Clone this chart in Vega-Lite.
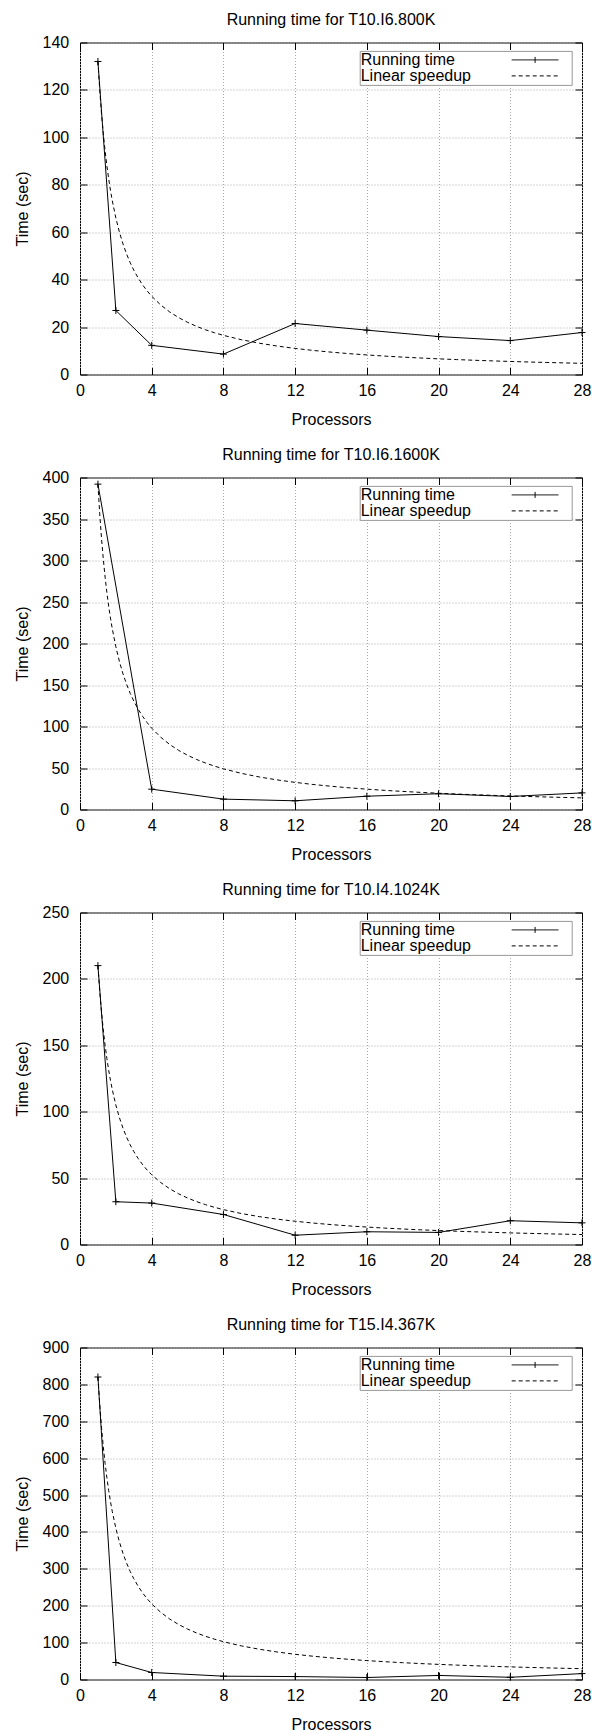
{
  "$schema": "https://vega.github.io/schema/vega-lite/v6.json",
  "background": "white",
  "padding": {"left": 13, "top": 10.5, "right": 2, "bottom": 5},
  "bounds": "flush",
  "spacing": 103,
  "resolve": {"scale": {"shape": "independent", "strokeDash": "independent"}, "legend": {"shape": "independent", "strokeDash": "independent"}},
  "datasets": {
    "run1": [{"p":1,"t":132},{"p":2,"t":27},{"p":4,"t":12.3},{"p":8,"t":8.6},{"p":12,"t":21.5},{"p":16,"t":18.7},{"p":20,"t":16},{"p":24,"t":14.3},{"p":28,"t":17.7}],
    "run2": [{"p":1,"t":392},{"p":4,"t":24.5},{"p":8,"t":12.5},{"p":12,"t":10.5},{"p":16,"t":16},{"p":20,"t":19},{"p":24,"t":15.7},{"p":28,"t":20}],
    "run3": [{"p":1,"t":210},{"p":2,"t":32.2},{"p":4,"t":31.2},{"p":8,"t":22.6},{"p":12,"t":7},{"p":16,"t":9.6},{"p":20,"t":9.1},{"p":24,"t":17.9},{"p":28,"t":16.3}],
    "run4": [{"p":1,"t":820},{"p":2,"t":46},{"p":4,"t":19},{"p":8,"t":9},{"p":12,"t":8},{"p":16,"t":5.4},{"p":20,"t":11},{"p":24,"t":6},{"p":28,"t":16}],
    "lin1": [{"p":1,"t":132},{"p":1.1,"t":120},{"p":1.2,"t":110},{"p":1.3,"t":101.54},{"p":1.4,"t":94.29},{"p":1.5,"t":88},{"p":1.6,"t":82.5},{"p":1.7,"t":77.65},{"p":1.8,"t":73.33},{"p":2,"t":66},{"p":2.2,"t":60},{"p":2.4,"t":55},{"p":2.6,"t":50.77},{"p":2.8,"t":47.14},{"p":3,"t":44},{"p":3.25,"t":40.62},{"p":3.5,"t":37.71},{"p":3.75,"t":35.2},{"p":4,"t":33},{"p":4.5,"t":29.33},{"p":5,"t":26.4},{"p":5.5,"t":24},{"p":6,"t":22},{"p":6.5,"t":20.31},{"p":7,"t":18.86},{"p":7.5,"t":17.6},{"p":8,"t":16.5},{"p":9,"t":14.67},{"p":10,"t":13.2},{"p":11,"t":12},{"p":12,"t":11},{"p":13,"t":10.15},{"p":14,"t":9.43},{"p":15,"t":8.8},{"p":16,"t":8.25},{"p":17,"t":7.76},{"p":18,"t":7.33},{"p":19,"t":6.95},{"p":20,"t":6.6},{"p":21,"t":6.29},{"p":22,"t":6},{"p":23,"t":5.74},{"p":24,"t":5.5},{"p":25,"t":5.28},{"p":26,"t":5.08},{"p":27,"t":4.89},{"p":28,"t":4.71}],
    "lin2": [{"p":1,"t":392},{"p":1.1,"t":356.36},{"p":1.2,"t":326.67},{"p":1.3,"t":301.54},{"p":1.4,"t":280},{"p":1.5,"t":261.33},{"p":1.6,"t":245},{"p":1.7,"t":230.59},{"p":1.8,"t":217.78},{"p":2,"t":196},{"p":2.2,"t":178.18},{"p":2.4,"t":163.33},{"p":2.6,"t":150.77},{"p":2.8,"t":140},{"p":3,"t":130.67},{"p":3.25,"t":120.62},{"p":3.5,"t":112},{"p":3.75,"t":104.53},{"p":4,"t":98},{"p":4.5,"t":87.11},{"p":5,"t":78.4},{"p":5.5,"t":71.27},{"p":6,"t":65.33},{"p":6.5,"t":60.31},{"p":7,"t":56},{"p":7.5,"t":52.27},{"p":8,"t":49},{"p":9,"t":43.56},{"p":10,"t":39.2},{"p":11,"t":35.64},{"p":12,"t":32.67},{"p":13,"t":30.15},{"p":14,"t":28},{"p":15,"t":26.13},{"p":16,"t":24.5},{"p":17,"t":23.06},{"p":18,"t":21.78},{"p":19,"t":20.63},{"p":20,"t":19.6},{"p":21,"t":18.67},{"p":22,"t":17.82},{"p":23,"t":17.04},{"p":24,"t":16.33},{"p":25,"t":15.68},{"p":26,"t":15.08},{"p":27,"t":14.52},{"p":28,"t":14}],
    "lin3": [{"p":1,"t":210},{"p":1.1,"t":190.91},{"p":1.2,"t":175},{"p":1.3,"t":161.54},{"p":1.4,"t":150},{"p":1.5,"t":140},{"p":1.6,"t":131.25},{"p":1.7,"t":123.53},{"p":1.8,"t":116.67},{"p":2,"t":105},{"p":2.2,"t":95.45},{"p":2.4,"t":87.5},{"p":2.6,"t":80.77},{"p":2.8,"t":75},{"p":3,"t":70},{"p":3.25,"t":64.62},{"p":3.5,"t":60},{"p":3.75,"t":56},{"p":4,"t":52.5},{"p":4.5,"t":46.67},{"p":5,"t":42},{"p":5.5,"t":38.18},{"p":6,"t":35},{"p":6.5,"t":32.31},{"p":7,"t":30},{"p":7.5,"t":28},{"p":8,"t":26.25},{"p":9,"t":23.33},{"p":10,"t":21},{"p":11,"t":19.09},{"p":12,"t":17.5},{"p":13,"t":16.15},{"p":14,"t":15},{"p":15,"t":14},{"p":16,"t":13.13},{"p":17,"t":12.35},{"p":18,"t":11.67},{"p":19,"t":11.05},{"p":20,"t":10.5},{"p":21,"t":10},{"p":22,"t":9.55},{"p":23,"t":9.13},{"p":24,"t":8.75},{"p":25,"t":8.4},{"p":26,"t":8.08},{"p":27,"t":7.78},{"p":28,"t":7.5}],
    "lin4": [{"p":1,"t":820},{"p":1.1,"t":745.45},{"p":1.2,"t":683.33},{"p":1.3,"t":630.77},{"p":1.4,"t":585.71},{"p":1.5,"t":546.67},{"p":1.6,"t":512.5},{"p":1.7,"t":482.35},{"p":1.8,"t":455.56},{"p":2,"t":410},{"p":2.2,"t":372.73},{"p":2.4,"t":341.67},{"p":2.6,"t":315.38},{"p":2.8,"t":292.86},{"p":3,"t":273.33},{"p":3.25,"t":252.31},{"p":3.5,"t":234.29},{"p":3.75,"t":218.67},{"p":4,"t":205},{"p":4.5,"t":182.22},{"p":5,"t":164},{"p":5.5,"t":149.09},{"p":6,"t":136.67},{"p":6.5,"t":126.15},{"p":7,"t":117.14},{"p":7.5,"t":109.33},{"p":8,"t":102.5},{"p":9,"t":91.11},{"p":10,"t":82},{"p":11,"t":74.55},{"p":12,"t":68.33},{"p":13,"t":63.08},{"p":14,"t":58.57},{"p":15,"t":54.67},{"p":16,"t":51.25},{"p":17,"t":48.24},{"p":18,"t":45.56},{"p":19,"t":43.16},{"p":20,"t":41},{"p":21,"t":39.05},{"p":22,"t":37.27},{"p":23,"t":35.65},{"p":24,"t":34.17},{"p":25,"t":32.8},{"p":26,"t":31.54},{"p":27,"t":30.37},{"p":28,"t":29.29}],
    "keys": [{"series":"Running time"},{"series":"Linear speedup"}]
  },
  "vconcat": [
    {
      "title": "Running time for T10.I6.800K",
      "width": 502, "height": 332,
      "resolve": {"axis": {"x": "independent", "y": "independent"}},
      "layer": [
        {"data": {"name": "run1"}, "mark": {"type": "line", "color": "black", "strokeWidth": 1},
         "encoding": {
           "x": {"field": "p", "type": "quantitative", "scale": {"domain": [0, 28], "nice": false, "zero": false}, "axis": {"orient": "bottom", "title": "Processors", "values": [0,4,8,12,16,20,24,28], "grid": true, "labelPadding": 14.8, "titlePadding": 13.3}},
           "y": {"field": "t", "type": "quantitative", "scale": {"domain": [0, 140], "nice": false}, "axis": {"orient": "left", "title": "Time (sec)", "values": [0,20,40,60,80,100,120,140], "grid": true, "labelPadding": 18.3, "titlePadding": 12}}}},
        {"data": {"name": "lin1"}, "mark": {"type": "line", "color": "black", "strokeWidth": 1, "strokeDash": [4, 3]},
         "encoding": {
           "x": {"field": "p", "type": "quantitative", "scale": {"domain": [0, 28], "nice": false, "zero": false}, "axis": {"orient": "top", "title": null, "labels": false, "grid": false, "values": [0,4,8,12,16,20,24,28]}},
           "y": {"field": "t", "type": "quantitative", "scale": {"domain": [0, 140], "nice": false}, "axis": {"orient": "right", "title": null, "labels": false, "grid": false, "values": [0,20,40,60,80,100,120,140]}}}},
        {"data": {"name": "run1"}, "mark": {"type": "point", "shape": "M-1,0H1M0,-1V1", "size": 49, "filled": false, "color": "black", "strokeWidth": 1, "opacity": 1},
         "encoding": {
           "x": {"field": "p", "type": "quantitative", "axis": null},
           "y": {"field": "t", "type": "quantitative", "axis": null}}},
        {"data": {"name": "keys"}, "transform": [{"filter": "false"}],
         "mark": {"type": "point", "filled": false, "color": "black", "strokeWidth": 1, "opacity": 1},
         "encoding": {
           "shape": {"field": "series", "type": "nominal", "scale": {"domain": ["Running time", "Linear speedup"], "range": ["M-3.6,0H3.6M0,-0.46V0.46M5.05,0", "M-3.6,0H3.6M5.05,0"]}, "legend": {"title": null, "orient": "none", "legendX": 279.7, "legendY": 8.4}},
           "strokeDash": {"field": "series", "type": "nominal", "scale": {"domain": ["Running time", "Linear speedup"], "range": [[1, 0], [4, 3]]}, "legend": {"title": null, "orient": "none", "legendX": 279.7, "legendY": 8.4}}}}
      ]
    },
    {
      "title": "Running time for T10.I6.1600K",
      "width": 502, "height": 332,
      "resolve": {"axis": {"x": "independent", "y": "independent"}},
      "layer": [
        {"data": {"name": "run2"}, "mark": {"type": "line", "color": "black", "strokeWidth": 1},
         "encoding": {
           "x": {"field": "p", "type": "quantitative", "scale": {"domain": [0, 28], "nice": false, "zero": false}, "axis": {"orient": "bottom", "title": "Processors", "values": [0,4,8,12,16,20,24,28], "grid": true, "labelPadding": 14.8, "titlePadding": 13.3}},
           "y": {"field": "t", "type": "quantitative", "scale": {"domain": [0, 400], "nice": false}, "axis": {"orient": "left", "title": "Time (sec)", "values": [0,50,100,150,200,250,300,350,400], "grid": true, "labelPadding": 18.3, "titlePadding": 12}}}},
        {"data": {"name": "lin2"}, "mark": {"type": "line", "color": "black", "strokeWidth": 1, "strokeDash": [4, 3]},
         "encoding": {
           "x": {"field": "p", "type": "quantitative", "scale": {"domain": [0, 28], "nice": false, "zero": false}, "axis": {"orient": "top", "title": null, "labels": false, "grid": false, "values": [0,4,8,12,16,20,24,28]}},
           "y": {"field": "t", "type": "quantitative", "scale": {"domain": [0, 400], "nice": false}, "axis": {"orient": "right", "title": null, "labels": false, "grid": false, "values": [0,50,100,150,200,250,300,350,400]}}}},
        {"data": {"name": "run2"}, "mark": {"type": "point", "shape": "M-1,0H1M0,-1V1", "size": 49, "filled": false, "color": "black", "strokeWidth": 1, "opacity": 1},
         "encoding": {
           "x": {"field": "p", "type": "quantitative", "axis": null},
           "y": {"field": "t", "type": "quantitative", "axis": null}}},
        {"data": {"name": "keys"}, "transform": [{"filter": "false"}],
         "mark": {"type": "point", "filled": false, "color": "black", "strokeWidth": 1, "opacity": 1},
         "encoding": {
           "shape": {"field": "series", "type": "nominal", "scale": {"domain": ["Running time", "Linear speedup"], "range": ["M-3.6,0H3.6M0,-0.46V0.46M5.05,0", "M-3.6,0H3.6M5.05,0"]}, "legend": {"title": null, "orient": "none", "legendX": 279.7, "legendY": 8.4}},
           "strokeDash": {"field": "series", "type": "nominal", "scale": {"domain": ["Running time", "Linear speedup"], "range": [[1, 0], [4, 3]]}, "legend": {"title": null, "orient": "none", "legendX": 279.7, "legendY": 8.4}}}}
      ]
    },
    {
      "title": "Running time for T10.I4.1024K",
      "width": 502, "height": 332,
      "resolve": {"axis": {"x": "independent", "y": "independent"}},
      "layer": [
        {"data": {"name": "run3"}, "mark": {"type": "line", "color": "black", "strokeWidth": 1},
         "encoding": {
           "x": {"field": "p", "type": "quantitative", "scale": {"domain": [0, 28], "nice": false, "zero": false}, "axis": {"orient": "bottom", "title": "Processors", "values": [0,4,8,12,16,20,24,28], "grid": true, "labelPadding": 14.8, "titlePadding": 13.3}},
           "y": {"field": "t", "type": "quantitative", "scale": {"domain": [0, 250], "nice": false}, "axis": {"orient": "left", "title": "Time (sec)", "values": [0,50,100,150,200,250], "grid": true, "labelPadding": 18.3, "titlePadding": 12}}}},
        {"data": {"name": "lin3"}, "mark": {"type": "line", "color": "black", "strokeWidth": 1, "strokeDash": [4, 3]},
         "encoding": {
           "x": {"field": "p", "type": "quantitative", "scale": {"domain": [0, 28], "nice": false, "zero": false}, "axis": {"orient": "top", "title": null, "labels": false, "grid": false, "values": [0,4,8,12,16,20,24,28]}},
           "y": {"field": "t", "type": "quantitative", "scale": {"domain": [0, 250], "nice": false}, "axis": {"orient": "right", "title": null, "labels": false, "grid": false, "values": [0,50,100,150,200,250]}}}},
        {"data": {"name": "run3"}, "mark": {"type": "point", "shape": "M-1,0H1M0,-1V1", "size": 49, "filled": false, "color": "black", "strokeWidth": 1, "opacity": 1},
         "encoding": {
           "x": {"field": "p", "type": "quantitative", "axis": null},
           "y": {"field": "t", "type": "quantitative", "axis": null}}},
        {"data": {"name": "keys"}, "transform": [{"filter": "false"}],
         "mark": {"type": "point", "filled": false, "color": "black", "strokeWidth": 1, "opacity": 1},
         "encoding": {
           "shape": {"field": "series", "type": "nominal", "scale": {"domain": ["Running time", "Linear speedup"], "range": ["M-3.6,0H3.6M0,-0.46V0.46M5.05,0", "M-3.6,0H3.6M5.05,0"]}, "legend": {"title": null, "orient": "none", "legendX": 279.7, "legendY": 8.4}},
           "strokeDash": {"field": "series", "type": "nominal", "scale": {"domain": ["Running time", "Linear speedup"], "range": [[1, 0], [4, 3]]}, "legend": {"title": null, "orient": "none", "legendX": 279.7, "legendY": 8.4}}}}
      ]
    },
    {
      "title": "Running time for T15.I4.367K",
      "width": 502, "height": 332,
      "resolve": {"axis": {"x": "independent", "y": "independent"}},
      "layer": [
        {"data": {"name": "run4"}, "mark": {"type": "line", "color": "black", "strokeWidth": 1},
         "encoding": {
           "x": {"field": "p", "type": "quantitative", "scale": {"domain": [0, 28], "nice": false, "zero": false}, "axis": {"orient": "bottom", "title": "Processors", "values": [0,4,8,12,16,20,24,28], "grid": true, "labelPadding": 14.8, "titlePadding": 13.3}},
           "y": {"field": "t", "type": "quantitative", "scale": {"domain": [0, 900], "nice": false}, "axis": {"orient": "left", "title": "Time (sec)", "values": [0,100,200,300,400,500,600,700,800,900], "grid": true, "labelPadding": 18.3, "titlePadding": 12}}}},
        {"data": {"name": "lin4"}, "mark": {"type": "line", "color": "black", "strokeWidth": 1, "strokeDash": [4, 3]},
         "encoding": {
           "x": {"field": "p", "type": "quantitative", "scale": {"domain": [0, 28], "nice": false, "zero": false}, "axis": {"orient": "top", "title": null, "labels": false, "grid": false, "values": [0,4,8,12,16,20,24,28]}},
           "y": {"field": "t", "type": "quantitative", "scale": {"domain": [0, 900], "nice": false}, "axis": {"orient": "right", "title": null, "labels": false, "grid": false, "values": [0,100,200,300,400,500,600,700,800,900]}}}},
        {"data": {"name": "run4"}, "mark": {"type": "point", "shape": "M-1,0H1M0,-1V1", "size": 49, "filled": false, "color": "black", "strokeWidth": 1, "opacity": 1},
         "encoding": {
           "x": {"field": "p", "type": "quantitative", "axis": null},
           "y": {"field": "t", "type": "quantitative", "axis": null}}},
        {"data": {"name": "keys"}, "transform": [{"filter": "false"}],
         "mark": {"type": "point", "filled": false, "color": "black", "strokeWidth": 1, "opacity": 1},
         "encoding": {
           "shape": {"field": "series", "type": "nominal", "scale": {"domain": ["Running time", "Linear speedup"], "range": ["M-3.6,0H3.6M0,-0.46V0.46M5.05,0", "M-3.6,0H3.6M5.05,0"]}, "legend": {"title": null, "orient": "none", "legendX": 279.7, "legendY": 8.4}},
           "strokeDash": {"field": "series", "type": "nominal", "scale": {"domain": ["Running time", "Linear speedup"], "range": [[1, 0], [4, 3]]}, "legend": {"title": null, "orient": "none", "legendX": 279.7, "legendY": 8.4}}}}
      ]
    }
  ],
  "config": {
    "font": "Liberation Sans",
    "view": {"stroke": "black", "strokeWidth": 1},
    "axis": {
      "labelFont": "Liberation Sans", "labelFontSize": 16, "labelColor": "black", "labelFlush": false, "labelOverlap": false,
      "titleFont": "Liberation Sans", "titleFontSize": 16, "titleFontWeight": "normal", "titleColor": "black",
      "tickColor": "black", "tickSize": -7, "tickWidth": 1, "domain": false,
      "gridColor": "#a8a8a8", "gridDash": [1, 2], "gridWidth": 1
    },
    "title": {"font": "Liberation Sans", "fontSize": 16, "fontWeight": "normal", "color": "black", "anchor": "middle", "frame": "group", "baseline": "bottom", "offset": 7},
    "legend": {
      "labelFont": "Liberation Sans", "labelFontSize": 16, "labelColor": "black",
      "symbolSize": 169, "symbolStrokeWidth": 1, "symbolStrokeColor": "black", "symbolOffset": 166.4, "labelOffset": -182.4,
      "rowPadding": -1, "padding": 1,
      "fillColor": "white", "strokeColor": "#999999", "strokeWidth": 1, "cornerRadius": 0
    }
  }
}
